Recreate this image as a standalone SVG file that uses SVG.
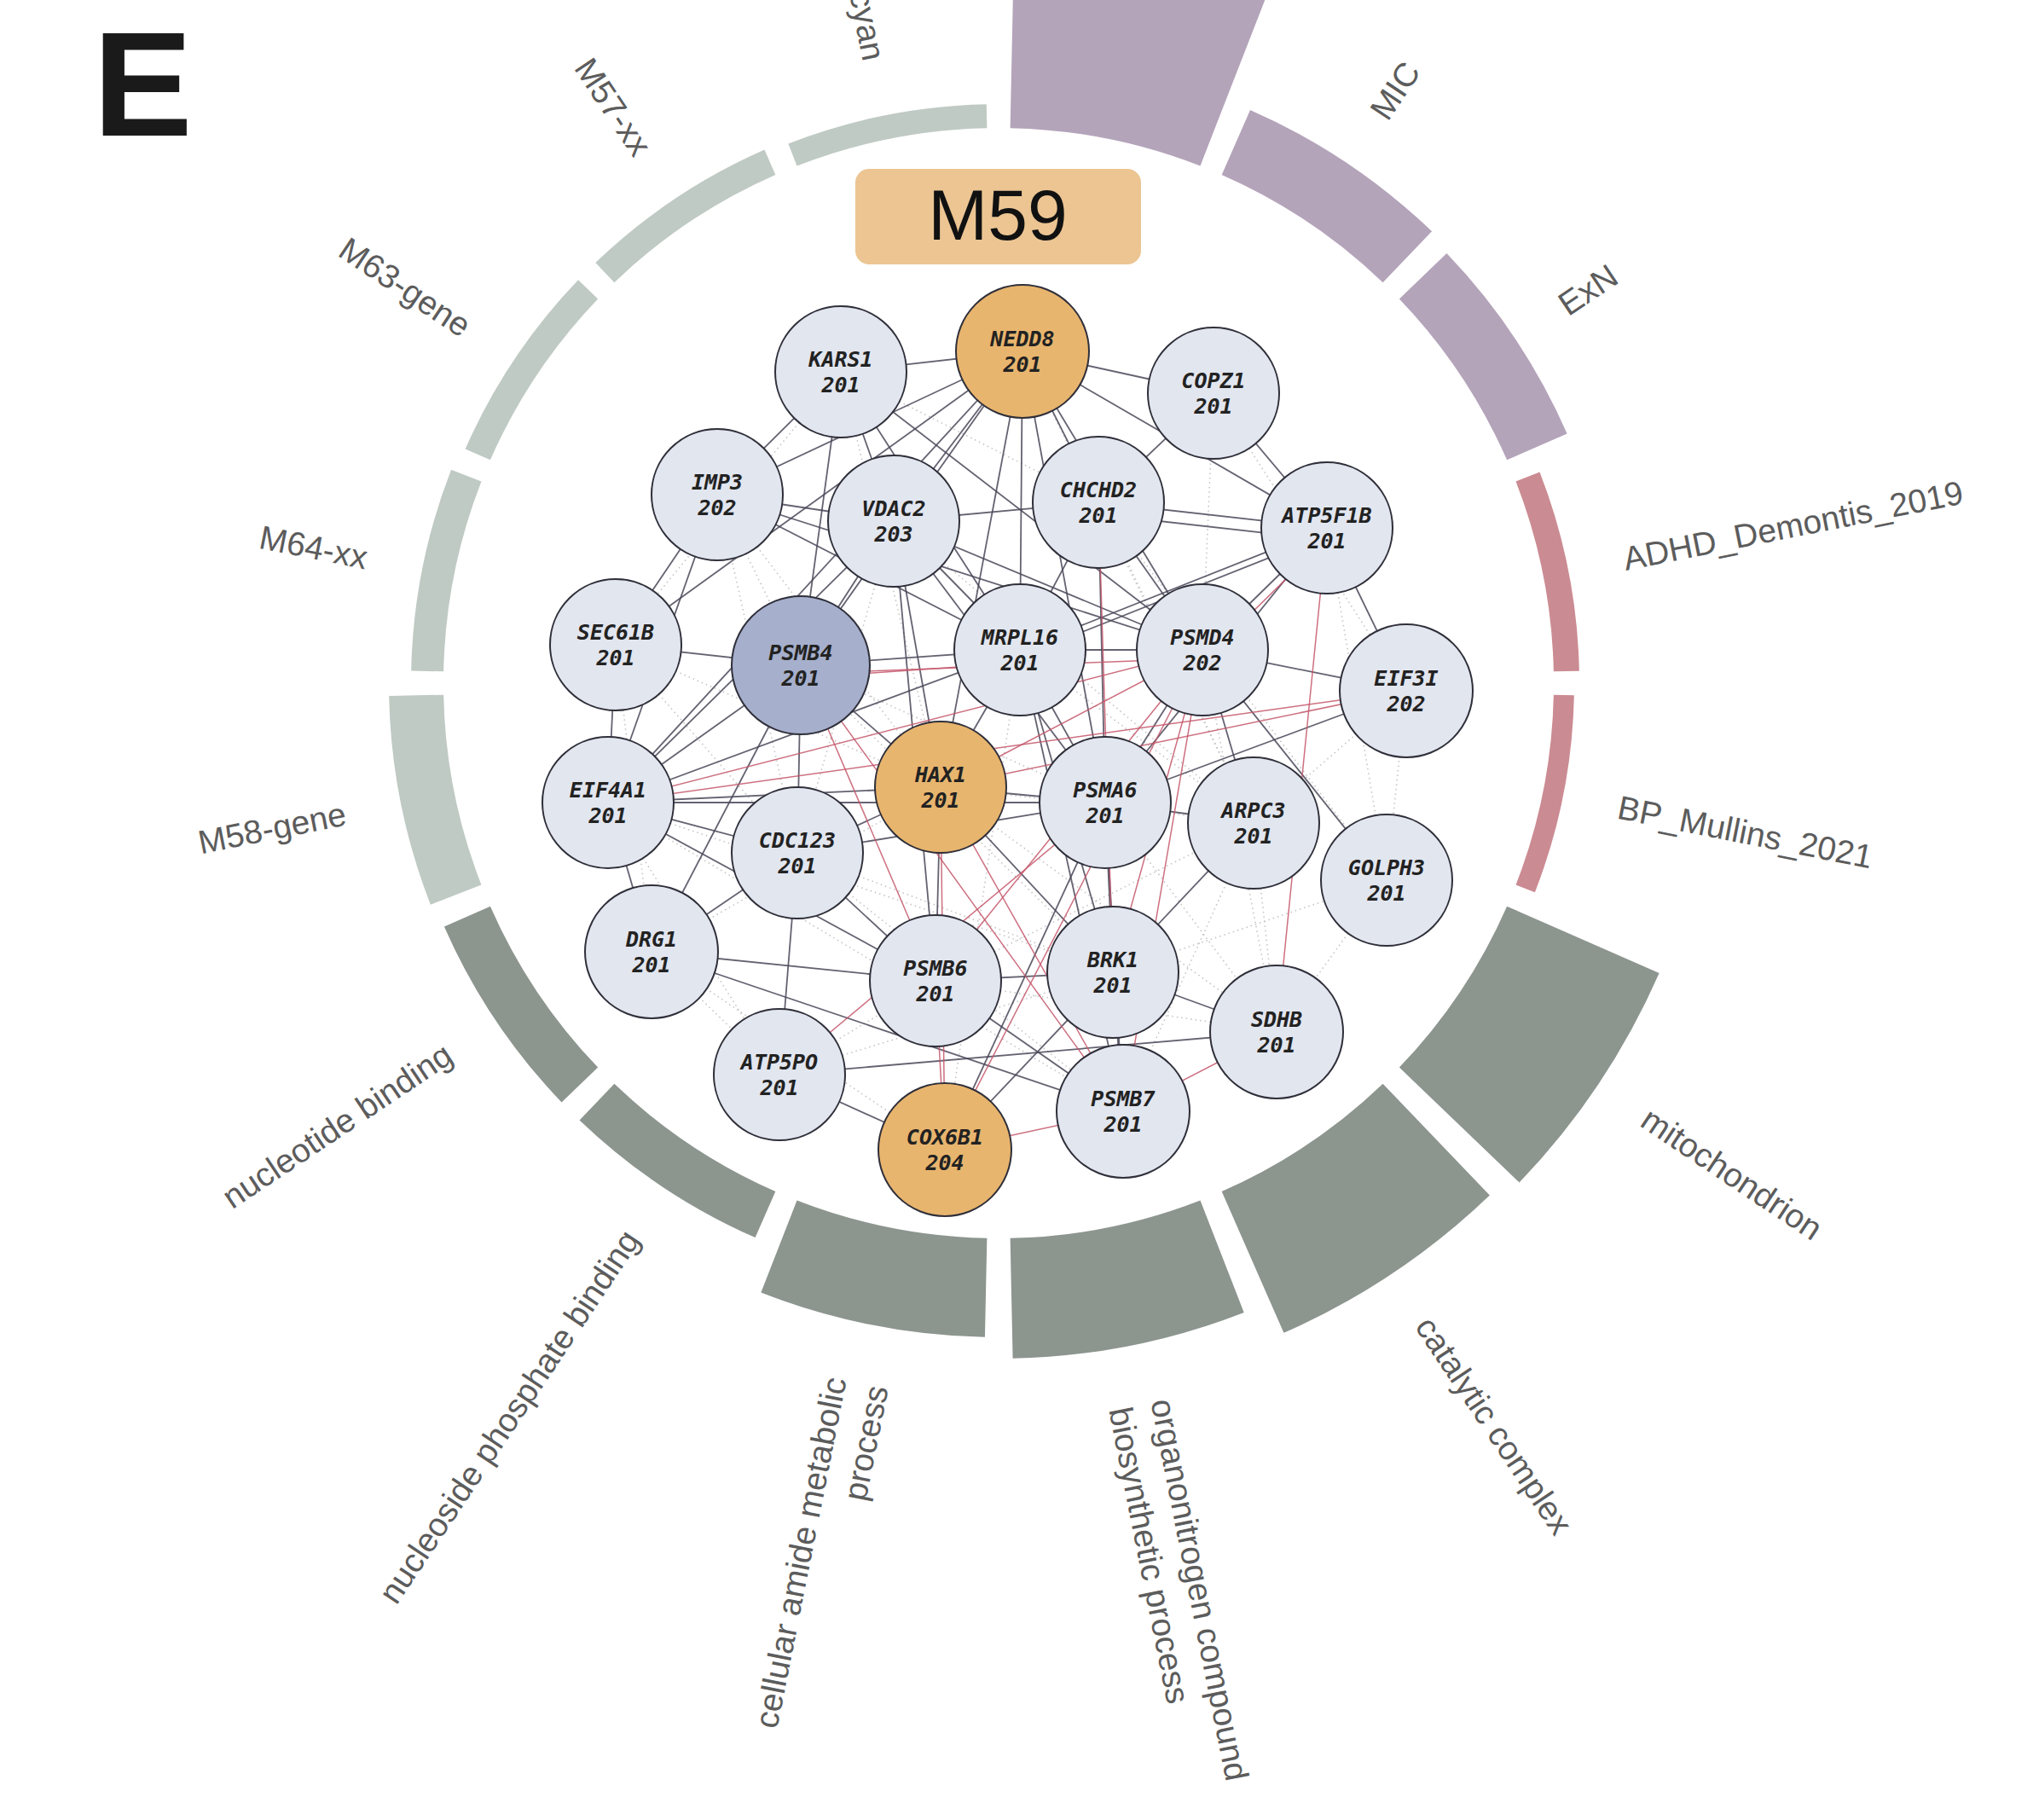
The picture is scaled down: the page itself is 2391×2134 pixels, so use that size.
<svg xmlns="http://www.w3.org/2000/svg" width="2391" height="2134" viewBox="0 0 2391 2134">
<defs>
<style>
.seg-mod{fill:#C0CAC4}
.seg-go{fill:#8D958F}
.seg-cell{fill:#B4A4BA}
.seg-gwas{fill:#CB8B92}
.lbl{font-family:"Liberation Sans",Arial,sans-serif;font-size:39px;fill:#5c5c5c}
.e{stroke:#4a4658;stroke-width:1.8;stroke-opacity:0.85}
.r{stroke:#c4566a;stroke-width:1.5;stroke-opacity:0.85}
.d{stroke:#c4c4c4;stroke-width:1.6;stroke-dasharray:1.5 4}
.n{fill:#E2E6EF;stroke:#2f2f3a;stroke-width:2}
.o{fill:#E8B56E}
.b{fill:#A6AFCC}
.t{font-family:"DejaVu Sans Mono",monospace;font-weight:bold;font-style:italic;font-size:25px;fill:#222;text-anchor:middle}
</style>
</defs>
<rect x="0" y="0" width="2391" height="2134" fill="#ffffff"/>
<text x="109" y="159" font-family="Liberation Sans, Arial, sans-serif" font-weight="bold" font-size="175" fill="#1a1a1a">E</text>

<g id="ring">
<path class="seg-cell" d="M 1190.89 -148.79 A 950 950 0 0 1 1516.09 -84.11 L 1407.48 194.47 A 651 651 0 0 0 1184.63 150.14 Z"/>
<path class="seg-cell" transform="rotate(22.5 1171 801)" d="M 1186.37 67.16 A 734 734 0 0 1 1437.63 117.14 L 1407.48 194.47 A 651 651 0 0 0 1184.63 150.14 Z"/>
<path class="seg-cell" transform="rotate(45 1171 801)" d="M 1186.24 73.16 A 728 728 0 0 1 1435.45 122.73 L 1407.48 194.47 A 651 651 0 0 0 1184.63 150.14 Z"/>
<path class="seg-gwas" transform="rotate(67.5 1171 801)" d="M 1185.26 120.15 A 681 681 0 0 1 1418.37 166.52 L 1407.48 194.47 A 651 651 0 0 0 1184.63 150.14 Z"/>
<path class="seg-gwas" transform="rotate(90 1171 801)" d="M 1185.13 126.15 A 675 675 0 0 1 1416.19 172.11 L 1407.48 194.47 A 651 651 0 0 0 1184.63 150.14 Z"/>
<path class="seg-go" transform="rotate(112.5 1171 801)" d="M 1188.72 -44.81 A 846 846 0 0 1 1478.31 12.79 L 1407.48 194.47 A 651 651 0 0 0 1184.63 150.14 Z"/>
<path class="seg-go" transform="rotate(135 1171 801)" d="M 1188.42 -30.82 A 832 832 0 0 1 1473.22 25.83 L 1407.48 194.47 A 651 651 0 0 0 1184.63 150.14 Z"/>
<path class="seg-go" transform="rotate(157.5 1171 801)" d="M 1187.58 9.17 A 792 792 0 0 1 1458.69 63.10 L 1407.48 194.47 A 651 651 0 0 0 1184.63 150.14 Z"/>
<path class="seg-go" transform="rotate(180 1171 801)" d="M 1187.06 34.17 A 767 767 0 0 1 1449.61 86.39 L 1407.48 194.47 A 651 651 0 0 0 1184.63 150.14 Z"/>
<path class="seg-go" transform="rotate(202.5 1171 801)" d="M 1185.87 91.16 A 710 710 0 0 1 1428.91 139.50 L 1407.48 194.47 A 651 651 0 0 0 1184.63 150.14 Z"/>
<path class="seg-go" transform="rotate(225 1171 801)" d="M 1185.87 91.16 A 710 710 0 0 1 1428.91 139.50 L 1407.48 194.47 A 651 651 0 0 0 1184.63 150.14 Z"/>
<path class="seg-mod" transform="rotate(247.5 1171 801)" d="M 1185.97 86.16 A 715 715 0 0 1 1430.72 134.84 L 1407.48 194.47 A 651 651 0 0 0 1184.63 150.14 Z"/>
<path class="seg-mod" transform="rotate(270 1171 801)" d="M 1185.43 112.15 A 689 689 0 0 1 1421.28 159.07 L 1407.48 194.47 A 651 651 0 0 0 1184.63 150.14 Z"/>
<path class="seg-mod" transform="rotate(292.5 1171 801)" d="M 1185.30 118.15 A 683 683 0 0 1 1419.10 164.66 L 1407.48 194.47 A 651 651 0 0 0 1184.63 150.14 Z"/>
<path class="seg-mod" transform="rotate(315 1171 801)" d="M 1185.30 118.15 A 683 683 0 0 1 1419.10 164.66 L 1407.48 194.47 A 651 651 0 0 0 1184.63 150.14 Z"/>
<path class="seg-mod" transform="rotate(337.5 1171 801)" d="M 1185.22 122.15 A 679 679 0 0 1 1417.65 168.38 L 1407.48 194.47 A 651 651 0 0 0 1184.63 150.14 Z"/>
</g>

<g id="ring-labels" class="lbl">
<text transform="translate(1615.5 135.8) rotate(-56.25)" y="14">MIC</text>
<text transform="translate(1831.2 359.9) rotate(-33.75)" y="14">ExN</text>
<text transform="translate(1903.7 655.3) rotate(-11.25)" y="14">ADHD_Demontis_2019</text>
<text transform="translate(1897.8 945.6) rotate(11.25)" y="14">BP_Mullins_2021</text>
<text transform="translate(1929.3 1307.7) rotate(33.75)" y="14">mitochondrion</text>
<text transform="translate(1669.9 1547.7) rotate(56.25)" y="14">catalytic complex</text>
<text transform="translate(1338.4 1645.5) rotate(78.75)"><tspan x="0" y="-11">organonitrogen compound</tspan><tspan x="0" y="39">biosynthetic process</tspan></text>
<text transform="translate(1003.5 1620) rotate(-78.75)" text-anchor="end"><tspan x="0" y="-11">cellular amide metabolic</tspan><tspan x="0" y="39">process</tspan></text>
<text transform="translate(739.9 1446.2) rotate(-56.25)" y="14" text-anchor="end">nucleoside phosphate binding</text>
<text transform="translate(525.8 1232.1) rotate(-33.75)" y="14" text-anchor="end">nucleotide binding</text>
<text transform="translate(405 953.4) rotate(-11.25)" y="14" text-anchor="end">M58-gene</text>
<text transform="translate(430.5 653.7) rotate(11.25)" y="14" text-anchor="end">M64-xx</text>
<text transform="translate(548.2 384.9) rotate(33.75)" y="14" text-anchor="end">M63-gene</text>
<text transform="translate(754.9 178.2) rotate(56.25)" y="14" text-anchor="end">M57-xx</text>
<text transform="translate(1025.7 70.3) rotate(78.75)" y="14" text-anchor="end">cyan</text>
</g>

<g id="title">
<rect x="1003" y="198" width="335" height="112" rx="16" fill="#ECC593"/>
<text x="1170" y="281" text-anchor="middle" font-family="Liberation Sans, Arial, sans-serif" font-size="84" fill="#111">M59</text>
</g>

<g id="connectors">
<g id="faint">
<line class="d" x1="841" y1="580" x2="939" y2="780"/>
<line class="d" x1="841" y1="580" x2="1103" y2="923"/>
<line class="d" x1="986" y1="436" x2="1288" y2="589"/>
<line class="d" x1="1048" y1="611" x2="935" y2="1000"/>
<line class="d" x1="722" y1="756" x2="935" y2="1000"/>
<line class="d" x1="722" y1="756" x2="1103" y2="923"/>
<line class="d" x1="935" y1="1000" x2="1305" y2="1140"/>
<line class="d" x1="764" y1="1116" x2="1103" y2="923"/>
<line class="d" x1="914" y1="1260" x2="1097" y2="1150"/>
<line class="d" x1="1097" y1="1150" x2="1497" y2="1210"/>
<line class="d" x1="1305" y1="1140" x2="1626" y2="1032"/>
<line class="d" x1="1470" y1="965" x2="1497" y2="1210"/>
<line class="d" x1="1626" y1="1032" x2="1497" y2="1210"/>
<line class="d" x1="1296" y1="941" x2="1497" y2="1210"/>
<line class="d" x1="1103" y1="923" x2="1470" y2="965"/>
<line class="d" x1="935" y1="1000" x2="1317" y2="1303"/>
<line class="d" x1="764" y1="1116" x2="1108" y2="1348"/>
<line class="d" x1="939" y1="780" x2="1296" y2="941"/>
<line class="d" x1="1048" y1="611" x2="1470" y2="965"/>
<line class="d" x1="1288" y1="589" x2="1470" y2="965"/>
<line class="d" x1="1288" y1="589" x2="1626" y2="1032"/>
<line class="d" x1="1196" y1="762" x2="1470" y2="965"/>
<line class="d" x1="713" y1="941" x2="1305" y2="1140"/>
<line class="d" x1="713" y1="941" x2="1317" y2="1303"/>
<line class="d" x1="914" y1="1260" x2="1305" y2="1140"/>
<line class="d" x1="1097" y1="1150" x2="1470" y2="965"/>
<line class="d" x1="1103" y1="923" x2="1497" y2="1210"/>
<line class="d" x1="939" y1="780" x2="1305" y2="1140"/>
<line class="d" x1="1196" y1="762" x2="1108" y2="1348"/>
<line class="d" x1="841" y1="580" x2="935" y2="1000"/>
<line class="d" x1="986" y1="436" x2="722" y2="756"/>
<line class="d" x1="986" y1="436" x2="1103" y2="923"/>
<line class="d" x1="1199" y1="412" x2="1470" y2="965"/>
<line class="d" x1="1423" y1="461" x2="1410" y2="762"/>
<line class="d" x1="1423" y1="461" x2="1649" y2="810"/>
<line class="d" x1="1649" y1="810" x2="1626" y2="1032"/>
<line class="d" x1="1649" y1="810" x2="1470" y2="965"/>
<line class="d" x1="1556" y1="619" x2="1626" y2="1032"/>
<line class="d" x1="1410" y1="762" x2="1497" y2="1210"/>
<line class="d" x1="1470" y1="965" x2="1317" y2="1303"/>
<line class="d" x1="722" y1="756" x2="764" y2="1116"/>
<line class="d" x1="713" y1="941" x2="914" y2="1260"/>
<line class="d" x1="764" y1="1116" x2="914" y2="1260"/>
</g>
<g id="dark">
<line class="e" x1="986" y1="436" x2="1199" y2="412"/>
<line class="e" x1="986" y1="436" x2="841" y2="580"/>
<line class="e" x1="986" y1="436" x2="1048" y2="611"/>
<line class="e" x1="986" y1="436" x2="1196" y2="762"/>
<line class="e" x1="986" y1="436" x2="1410" y2="762"/>
<line class="e" x1="986" y1="436" x2="939" y2="780"/>
<line class="e" x1="1199" y1="412" x2="1423" y2="461"/>
<line class="e" x1="1199" y1="412" x2="841" y2="580"/>
<line class="e" x1="1199" y1="412" x2="1048" y2="611"/>
<line class="e" x1="1199" y1="412" x2="939" y2="780"/>
<line class="e" x1="1199" y1="412" x2="1196" y2="762"/>
<line class="e" x1="1199" y1="412" x2="1103" y2="923"/>
<line class="e" x1="1199" y1="412" x2="1296" y2="941"/>
<line class="e" x1="1199" y1="412" x2="1556" y2="619"/>
<line class="e" x1="1199" y1="412" x2="1410" y2="762"/>
<line class="e" x1="1199" y1="412" x2="713" y2="941"/>
<line class="e" x1="1199" y1="412" x2="1288" y2="589"/>
<line class="e" x1="1199" y1="412" x2="722" y2="756"/>
<line class="e" x1="1423" y1="461" x2="1288" y2="589"/>
<line class="e" x1="1423" y1="461" x2="1556" y2="619"/>
<line class="e" x1="841" y1="580" x2="1048" y2="611"/>
<line class="e" x1="841" y1="580" x2="1196" y2="762"/>
<line class="e" x1="841" y1="580" x2="722" y2="756"/>
<line class="e" x1="841" y1="580" x2="713" y2="941"/>
<line class="e" x1="841" y1="580" x2="1410" y2="762"/>
<line class="e" x1="1048" y1="611" x2="1288" y2="589"/>
<line class="e" x1="1048" y1="611" x2="1196" y2="762"/>
<line class="e" x1="1048" y1="611" x2="1410" y2="762"/>
<line class="e" x1="1048" y1="611" x2="939" y2="780"/>
<line class="e" x1="1048" y1="611" x2="1103" y2="923"/>
<line class="e" x1="1048" y1="611" x2="713" y2="941"/>
<line class="e" x1="1048" y1="611" x2="1296" y2="941"/>
<line class="e" x1="1048" y1="611" x2="1097" y2="1150"/>
<line class="e" x1="1288" y1="589" x2="1556" y2="619"/>
<line class="e" x1="1288" y1="603" x2="1556" y2="633"/>
<line class="e" x1="1288" y1="589" x2="1196" y2="762"/>
<line class="e" x1="1288" y1="589" x2="1410" y2="762"/>
<line class="e" x1="1288" y1="589" x2="1296" y2="941"/>
<line class="e" x1="1556" y1="619" x2="1196" y2="762"/>
<line class="e" x1="1556" y1="627" x2="1196" y2="770"/>
<line class="e" x1="1556" y1="619" x2="1410" y2="762"/>
<line class="e" x1="1556" y1="619" x2="1649" y2="810"/>
<line class="e" x1="1556" y1="619" x2="1296" y2="941"/>
<line class="e" x1="722" y1="756" x2="939" y2="780"/>
<line class="e" x1="722" y1="756" x2="713" y2="941"/>
<line class="e" x1="939" y1="780" x2="1196" y2="762"/>
<line class="e" x1="939" y1="780" x2="713" y2="941"/>
<line class="e" x1="939" y1="780" x2="935" y2="1000"/>
<line class="e" x1="939" y1="780" x2="1103" y2="923"/>
<line class="e" x1="939" y1="780" x2="764" y2="1116"/>
<line class="e" x1="1196" y1="762" x2="1410" y2="762"/>
<line class="e" x1="1196" y1="762" x2="1103" y2="923"/>
<line class="e" x1="1196" y1="762" x2="1296" y2="941"/>
<line class="e" x1="1196" y1="762" x2="713" y2="941"/>
<line class="e" x1="1196" y1="762" x2="1305" y2="1140"/>
<line class="e" x1="1196" y1="762" x2="1317" y2="1303"/>
<line class="e" x1="1410" y1="762" x2="1649" y2="810"/>
<line class="e" x1="1410" y1="762" x2="1296" y2="941"/>
<line class="e" x1="1410" y1="762" x2="1470" y2="965"/>
<line class="e" x1="1410" y1="762" x2="1626" y2="1032"/>
<line class="e" x1="1649" y1="810" x2="1296" y2="941"/>
<line class="e" x1="713" y1="941" x2="1103" y2="923"/>
<line class="e" x1="713" y1="941" x2="935" y2="1000"/>
<line class="e" x1="713" y1="941" x2="764" y2="1116"/>
<line class="e" x1="713" y1="941" x2="1296" y2="941"/>
<line class="e" x1="713" y1="941" x2="1097" y2="1150"/>
<line class="e" x1="1103" y1="923" x2="1296" y2="941"/>
<line class="e" x1="1103" y1="923" x2="935" y2="1000"/>
<line class="e" x1="1103" y1="923" x2="1097" y2="1150"/>
<line class="e" x1="1103" y1="923" x2="1305" y2="1140"/>
<line class="e" x1="1296" y1="941" x2="1470" y2="965"/>
<line class="e" x1="1296" y1="941" x2="1305" y2="1140"/>
<line class="e" x1="1296" y1="941" x2="1108" y2="1348"/>
<line class="e" x1="1296" y1="941" x2="1317" y2="1303"/>
<line class="e" x1="1296" y1="941" x2="935" y2="1000"/>
<line class="e" x1="1470" y1="965" x2="1305" y2="1140"/>
<line class="e" x1="935" y1="1000" x2="764" y2="1116"/>
<line class="e" x1="935" y1="1000" x2="1097" y2="1150"/>
<line class="e" x1="935" y1="1000" x2="914" y2="1260"/>
<line class="e" x1="764" y1="1116" x2="1097" y2="1150"/>
<line class="e" x1="764" y1="1116" x2="1317" y2="1303"/>
<line class="e" x1="1097" y1="1150" x2="1305" y2="1140"/>
<line class="e" x1="1097" y1="1150" x2="1317" y2="1303"/>
<line class="e" x1="1305" y1="1140" x2="1317" y2="1303"/>
<line class="e" x1="1305" y1="1140" x2="1497" y2="1210"/>
<line class="e" x1="914" y1="1260" x2="1108" y2="1348"/>
<line class="e" x1="914" y1="1260" x2="1497" y2="1210"/>
<line class="e" x1="1108" y1="1348" x2="1305" y2="1140"/>
</g>
<g id="red">
<line class="r" x1="939" y1="795" x2="1196" y2="777"/>
<line class="r" x1="939" y1="790" x2="1410" y2="772"/>
<line class="r" x1="713" y1="941" x2="1410" y2="762"/>
<line class="r" x1="1649" y1="810" x2="1103" y2="923"/>
<line class="r" x1="1649" y1="810" x2="713" y2="941"/>
<line class="r" x1="1410" y1="762" x2="1097" y2="1150"/>
<line class="r" x1="1410" y1="762" x2="1108" y2="1348"/>
<line class="r" x1="1410" y1="762" x2="1317" y2="1303"/>
<line class="r" x1="1410" y1="762" x2="1103" y2="923"/>
<line class="r" x1="1556" y1="632" x2="1410" y2="775"/>
<line class="r" x1="1556" y1="619" x2="1497" y2="1210"/>
<line class="r" x1="939" y1="780" x2="1097" y2="1150"/>
<line class="r" x1="939" y1="780" x2="1317" y2="1303"/>
<line class="r" x1="1103" y1="923" x2="1317" y2="1303"/>
<line class="r" x1="1103" y1="923" x2="1108" y2="1348"/>
<line class="r" x1="1097" y1="1150" x2="1108" y2="1348"/>
<line class="r" x1="1108" y1="1348" x2="1317" y2="1303"/>
<line class="r" x1="1497" y1="1210" x2="1317" y2="1303"/>
<line class="r" x1="914" y1="1260" x2="1296" y2="941"/>
<line class="r" x1="1288" y1="589" x2="1305" y2="1140"/>
<line class="r" x1="1410" y1="762" x2="1305" y2="1140"/>
</g>
</g>

<g id="nodes">
<g id="node-KARS1"><circle class="n" cx="986" cy="436" r="77"/><text class="t" x="986" y="430">KARS1</text><text class="t" x="986" y="460">201</text></g>
<g id="node-NEDD8"><circle class="n o" cx="1199" cy="412" r="78"/><text class="t" x="1199" y="406">NEDD8</text><text class="t" x="1199" y="436">201</text></g>
<g id="node-COPZ1"><circle class="n" cx="1423" cy="461" r="77"/><text class="t" x="1423" y="455">COPZ1</text><text class="t" x="1423" y="485">201</text></g>
<g id="node-IMP3"><circle class="n" cx="841" cy="580" r="77"/><text class="t" x="841" y="574">IMP3</text><text class="t" x="841" y="604">202</text></g>
<g id="node-VDAC2"><circle class="n" cx="1048" cy="611" r="77"/><text class="t" x="1048" y="605">VDAC2</text><text class="t" x="1048" y="635">203</text></g>
<g id="node-CHCHD2"><circle class="n" cx="1288" cy="589" r="77"/><text class="t" x="1288" y="583">CHCHD2</text><text class="t" x="1288" y="613">201</text></g>
<g id="node-ATP5F1B"><circle class="n" cx="1556" cy="619" r="77"/><text class="t" x="1556" y="613">ATP5F1B</text><text class="t" x="1556" y="643">201</text></g>
<g id="node-SEC61B"><circle class="n" cx="722" cy="756" r="77"/><text class="t" x="722" y="750">SEC61B</text><text class="t" x="722" y="780">201</text></g>
<g id="node-PSMB4"><circle class="n b" cx="939" cy="780" r="81"/><text class="t" x="939" y="774">PSMB4</text><text class="t" x="939" y="804">201</text></g>
<g id="node-MRPL16"><circle class="n" cx="1196" cy="762" r="77"/><text class="t" x="1196" y="756">MRPL16</text><text class="t" x="1196" y="786">201</text></g>
<g id="node-PSMD4"><circle class="n" cx="1410" cy="762" r="77"/><text class="t" x="1410" y="756">PSMD4</text><text class="t" x="1410" y="786">202</text></g>
<g id="node-EIF3I"><circle class="n" cx="1649" cy="810" r="78"/><text class="t" x="1649" y="804">EIF3I</text><text class="t" x="1649" y="834">202</text></g>
<g id="node-EIF4A1"><circle class="n" cx="713" cy="941" r="77"/><text class="t" x="713" y="935">EIF4A1</text><text class="t" x="713" y="965">201</text></g>
<g id="node-HAX1"><circle class="n o" cx="1103" cy="923" r="77"/><text class="t" x="1103" y="917">HAX1</text><text class="t" x="1103" y="947">201</text></g>
<g id="node-PSMA6"><circle class="n" cx="1296" cy="941" r="77"/><text class="t" x="1296" y="935">PSMA6</text><text class="t" x="1296" y="965">201</text></g>
<g id="node-ARPC3"><circle class="n" cx="1470" cy="965" r="77"/><text class="t" x="1470" y="959">ARPC3</text><text class="t" x="1470" y="989">201</text></g>
<g id="node-CDC123"><circle class="n" cx="935" cy="1000" r="77"/><text class="t" x="935" y="994">CDC123</text><text class="t" x="935" y="1024">201</text></g>
<g id="node-GOLPH3"><circle class="n" cx="1626" cy="1032" r="77"/><text class="t" x="1626" y="1026">GOLPH3</text><text class="t" x="1626" y="1056">201</text></g>
<g id="node-DRG1"><circle class="n" cx="764" cy="1116" r="78"/><text class="t" x="764" y="1110">DRG1</text><text class="t" x="764" y="1140">201</text></g>
<g id="node-PSMB6"><circle class="n" cx="1097" cy="1150" r="77"/><text class="t" x="1097" y="1144">PSMB6</text><text class="t" x="1097" y="1174">201</text></g>
<g id="node-BRK1"><circle class="n" cx="1305" cy="1140" r="77"/><text class="t" x="1305" y="1134">BRK1</text><text class="t" x="1305" y="1164">201</text></g>
<g id="node-SDHB"><circle class="n" cx="1497" cy="1210" r="78"/><text class="t" x="1497" y="1204">SDHB</text><text class="t" x="1497" y="1234">201</text></g>
<g id="node-ATP5PO"><circle class="n" cx="914" cy="1260" r="77"/><text class="t" x="914" y="1254">ATP5PO</text><text class="t" x="914" y="1284">201</text></g>
<g id="node-COX6B1"><circle class="n o" cx="1108" cy="1348" r="78"/><text class="t" x="1108" y="1342">COX6B1</text><text class="t" x="1108" y="1372">204</text></g>
<g id="node-PSMB7"><circle class="n" cx="1317" cy="1303" r="78"/><text class="t" x="1317" y="1297">PSMB7</text><text class="t" x="1317" y="1327">201</text></g>
</g>
</svg>
